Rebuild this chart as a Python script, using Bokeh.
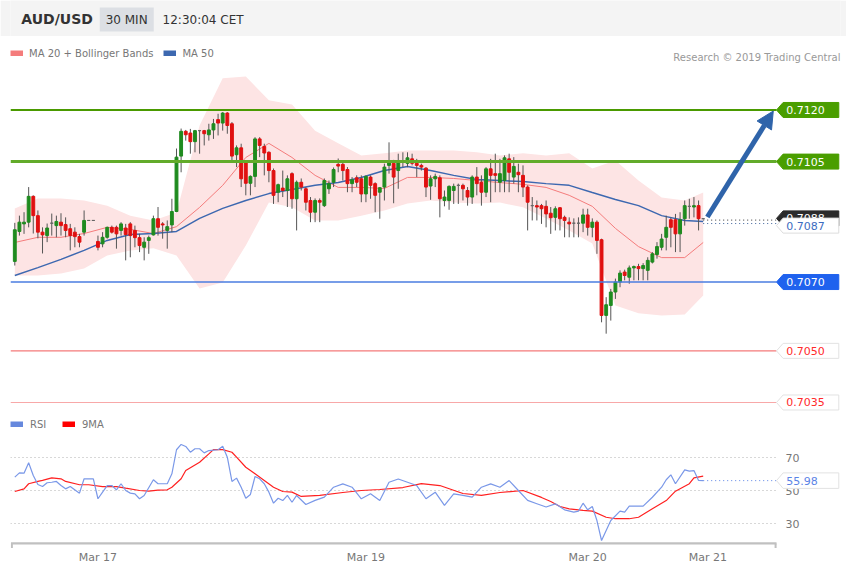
from bokeh.plotting import figure
from bokeh.models import (ColumnDataSource, Range1d, Legend, LegendItem, Label,
                          Arrow, NormalHead, FixedTicker)
from bokeh.layouts import column
from bokeh.embed import file_html
from bokeh.resources import INLINE
from bokeh.core.properties import value

FONT = "DejaVu Sans"

# ---------------- data ----------------
opens = [0.70760, 0.70847, 0.70869, 0.70874, 0.70949, 0.70893, 0.70845, 0.70835, 0.70871, 0.70864,
         0.70874, 0.70867, 0.70855, 0.70845, 0.70832, 0.70845, 0.70879, 0.70879, 0.70818, 0.70811,
         0.70830, 0.70859, 0.70859, 0.70850, 0.70857, 0.70869, 0.70850, 0.70829, 0.70801, 0.70821,
         0.70837, 0.70884, 0.70869, 0.70850, 0.70866, 0.70905, 0.71066, 0.71138, 0.71133, 0.71108,
         0.71140, 0.71140, 0.71128, 0.71142, 0.71172, 0.71162, 0.71191, 0.71160, 0.71070, 0.71090,
         0.71051, 0.70987, 0.71007, 0.71116, 0.71094, 0.71077, 0.71024, 0.70961, 0.70973, 0.70966,
         0.71015, 0.70942, 0.70990, 0.70971, 0.70937, 0.70903, 0.70937, 0.70922, 0.70971, 0.70990,
         0.71042, 0.71042, 0.71027, 0.70986, 0.71003, 0.71000, 0.70956, 0.71005, 0.70986, 0.70961,
         0.70976, 0.71039, 0.71045, 0.71024, 0.71048, 0.71045, 0.71058, 0.71045, 0.71039, 0.71031,
         0.70979, 0.71000, 0.71003, 0.70937, 0.70937, 0.70966, 0.70981, 0.70981, 0.70966, 0.70947,
         0.71005, 0.70990, 0.70961, 0.71029, 0.71015, 0.70990, 0.70995, 0.71058, 0.71005, 0.71019,
         0.71010, 0.70976, 0.70922, 0.70922, 0.70922, 0.70920, 0.70900, 0.70888, 0.70916, 0.70888,
         0.70874, 0.70871, 0.70871, 0.70871, 0.70895, 0.70859, 0.70874, 0.70823, 0.70603, 0.70632,
         0.70671, 0.70700, 0.70729, 0.70714, 0.70741, 0.70745, 0.70739, 0.70734, 0.70758, 0.70780,
         0.70801, 0.70830, 0.70881, 0.70881, 0.70840, 0.70884, 0.70920, 0.70918, 0.70922, 0.70884]
highs = [0.70872, 0.70893, 0.70903, 0.70976, 0.70952, 0.70908, 0.70859, 0.70870, 0.70899, 0.70893,
         0.70900, 0.70888, 0.70869, 0.70859, 0.70840, 0.70908, 0.70879, 0.70879, 0.70835, 0.70845,
         0.70861, 0.70864, 0.70864, 0.70874, 0.70869, 0.70874, 0.70864, 0.70840, 0.70830, 0.70835,
         0.70893, 0.70918, 0.70874, 0.70879, 0.70942, 0.71088, 0.71146, 0.71142, 0.71145, 0.71142,
         0.71142, 0.71142, 0.71160, 0.71174, 0.71189, 0.71194, 0.71194, 0.71165, 0.71097, 0.71102,
         0.71053, 0.71010, 0.71121, 0.71121, 0.71102, 0.71080, 0.71030, 0.70986, 0.71024, 0.71010,
         0.71019, 0.70995, 0.71001, 0.70976, 0.70947, 0.70943, 0.70943, 0.71001, 0.70995, 0.71033,
         0.71059, 0.71048, 0.71034, 0.71005, 0.71010, 0.71010, 0.71010, 0.71010, 0.70990, 0.70976,
         0.71044, 0.71106, 0.71055, 0.71073, 0.71077, 0.71077, 0.71073, 0.71058, 0.71044, 0.71034,
         0.71010, 0.71015, 0.71010, 0.70966, 0.70981, 0.70986, 0.70986, 0.70986, 0.70976, 0.71010,
         0.71034, 0.71010, 0.71034, 0.71058, 0.71073, 0.71058, 0.71068, 0.71073, 0.71063, 0.71044,
         0.71039, 0.70981, 0.70947, 0.70937, 0.70927, 0.70937, 0.70918, 0.70920, 0.70918, 0.70893,
         0.70888, 0.70885, 0.70888, 0.70913, 0.70913, 0.70885, 0.70879, 0.70826, 0.70656, 0.70680,
         0.70710, 0.70734, 0.70736, 0.70748, 0.70748, 0.70753, 0.70755, 0.70772, 0.70787, 0.70816,
         0.70840, 0.70893, 0.70888, 0.70898, 0.70903, 0.70937, 0.70942, 0.70947, 0.70937, 0.70884]
lows = [0.70748, 0.70835, 0.70840, 0.70859, 0.70841, 0.70827, 0.70783, 0.70816, 0.70835, 0.70830,
        0.70835, 0.70830, 0.70792, 0.70801, 0.70801, 0.70835, 0.70879, 0.70879, 0.70792, 0.70801,
        0.70826, 0.70841, 0.70797, 0.70835, 0.70763, 0.70772, 0.70801, 0.70787, 0.70763, 0.70782,
        0.70835, 0.70835, 0.70826, 0.70797, 0.70845, 0.70903, 0.71019, 0.71111, 0.71073, 0.71077,
        0.71073, 0.71097, 0.71111, 0.71116, 0.71126, 0.71140, 0.71131, 0.71053, 0.71034, 0.70976,
        0.70952, 0.70952, 0.70976, 0.71063, 0.71010, 0.70990, 0.70927, 0.70932, 0.70947, 0.70918,
        0.70913, 0.70850, 0.70966, 0.70908, 0.70874, 0.70874, 0.70874, 0.70918, 0.70956, 0.70976,
        0.71019, 0.70995, 0.70961, 0.70961, 0.70976, 0.70932, 0.70932, 0.70942, 0.70903, 0.70884,
        0.70937, 0.71015, 0.70929, 0.70971, 0.71034, 0.71034, 0.71039, 0.71005, 0.71024, 0.70947,
        0.70939, 0.70976, 0.70888, 0.70920, 0.70910, 0.70927, 0.70927, 0.70937, 0.70922, 0.70927,
        0.70952, 0.70922, 0.70947, 0.70932, 0.70961, 0.70961, 0.70961, 0.70961, 0.70986, 0.70961,
        0.70947, 0.70850, 0.70879, 0.70879, 0.70869, 0.70859, 0.70840, 0.70850, 0.70850, 0.70830,
        0.70830, 0.70830, 0.70830, 0.70845, 0.70835, 0.70830, 0.70782, 0.70583, 0.70550, 0.70588,
        0.70651, 0.70685, 0.70705, 0.70695, 0.70705, 0.70705, 0.70705, 0.70705, 0.70754, 0.70768,
        0.70792, 0.70792, 0.70801, 0.70787, 0.70787, 0.70864, 0.70884, 0.70888, 0.70850, 0.70884]
closes = [0.70852, 0.70874, 0.70874, 0.70949, 0.70893, 0.70845, 0.70837, 0.70857, 0.70871, 0.70876,
          0.70864, 0.70850, 0.70835, 0.70832, 0.70816, 0.70879, 0.70879, 0.70879, 0.70801, 0.70830,
          0.70859, 0.70845, 0.70840, 0.70869, 0.70838, 0.70835, 0.70829, 0.70806, 0.70816, 0.70829,
          0.70884, 0.70859, 0.70866, 0.70861, 0.70905, 0.71063, 0.71138, 0.71128, 0.71108, 0.71140,
          0.71140, 0.71131, 0.71142, 0.71160, 0.71162, 0.71191, 0.71155, 0.71066, 0.71090, 0.71000,
          0.70987, 0.71007, 0.71116, 0.71097, 0.71075, 0.71024, 0.70952, 0.70983, 0.70966, 0.71000,
          0.70942, 0.70990, 0.70976, 0.70932, 0.70903, 0.70937, 0.70932, 0.70995, 0.70986, 0.71027,
          0.71037, 0.71024, 0.70986, 0.70997, 0.70990, 0.70956, 0.71007, 0.70981, 0.70952, 0.70974,
          0.71034, 0.71053, 0.71005, 0.71048, 0.71053, 0.71061, 0.71045, 0.71039, 0.71034, 0.70976,
          0.71000, 0.71007, 0.70942, 0.70947, 0.70978, 0.70978, 0.70981, 0.70971, 0.70947, 0.71005,
          0.70986, 0.70961, 0.71029, 0.71010, 0.71010, 0.71015, 0.71061, 0.71019, 0.71036, 0.71012,
          0.70976, 0.70932, 0.70922, 0.70918, 0.70913, 0.70898, 0.70887, 0.70913, 0.70884, 0.70879,
          0.70869, 0.70871, 0.70871, 0.70895, 0.70859, 0.70874, 0.70821, 0.70603, 0.70634, 0.70671,
          0.70700, 0.70726, 0.70719, 0.70741, 0.70745, 0.70739, 0.70748, 0.70763, 0.70782, 0.70803,
          0.70825, 0.70859, 0.70859, 0.70840, 0.70881, 0.70922, 0.70920, 0.70922, 0.70884, 0.70884]

# indicator values read at these bars
ind_bars = [0, 5, 10, 15, 20, 25, 30, 35, 40, 45, 50, 55, 60, 65, 70, 75, 80, 85, 90, 95,
            100, 105, 110, 115, 120, 125, 130, 135, 140, 145, 149]
ma50 = [0.70719, 0.70742, 0.70766, 0.70792, 0.70821, 0.70838, 0.70841, 0.70847, 0.70885, 0.70914,
        0.70937, 0.70957, 0.70969, 0.70981, 0.70989, 0.71004, 0.71024, 0.71036, 0.71024, 0.71010,
        0.70998, 0.70995, 0.70992, 0.70986, 0.70981, 0.70960, 0.70940, 0.70922, 0.70893, 0.70879, 0.70876]
ma20 = [0.70815, 0.70830, 0.70830, 0.70841, 0.70859, 0.70853, 0.70841, 0.70861, 0.70917, 0.70981,
        0.71062, 0.71103, 0.71062, 0.71010, 0.70975, 0.70975, 0.70972, 0.71004, 0.71004, 0.71001,
        0.70995, 0.70989, 0.70984, 0.70975, 0.70952, 0.70920, 0.70856, 0.70803, 0.70771, 0.70771, 0.70815]
bb_upper = [0.70914, 0.70943, 0.70943, 0.70937, 0.70922, 0.70893, 0.70879, 0.70902, 0.71155, 0.71292,
            0.71297, 0.71228, 0.71216, 0.71140, 0.71103, 0.71068, 0.71074, 0.71082, 0.71082, 0.71082,
            0.71077, 0.71068, 0.71074, 0.71068, 0.71074, 0.71030, 0.71053, 0.70995, 0.70946, 0.70937, 0.70960]
bb_lower = [0.70719, 0.70719, 0.70725, 0.70739, 0.70777, 0.70792, 0.70798, 0.70777, 0.70681, 0.70699,
            0.70806, 0.70931, 0.70917, 0.70879, 0.70879, 0.70893, 0.70908, 0.70928, 0.70937, 0.70931,
            0.70928, 0.70931, 0.70917, 0.70885, 0.70850, 0.70812, 0.70632, 0.70609, 0.70603, 0.70606, 0.70661]

rsi_bars = [0, 1, 2, 3, 4, 5, 6, 7, 8, 9, 10, 11, 12, 14, 15, 16, 17, 18, 19, 20, 21, 22, 23, 24, 25,
            26, 27, 28, 30, 31, 33, 34, 35, 36, 37, 38, 39, 40, 41, 42, 44, 45, 46, 47, 48, 49, 50,
            51, 52, 53, 54, 55, 56, 57, 58, 59, 60, 61, 63, 65, 67, 69, 71, 73, 75, 77, 79, 81, 83,
            85, 87, 89, 91, 93, 95, 97, 99, 101, 103, 105, 107, 109, 111, 113, 115, 117, 119, 121,
            122, 123, 124, 125, 126, 127, 128, 129, 131, 132, 133, 136, 138, 140, 141, 142, 143,
            145, 146, 147, 148, 149]
rsi = [58.1, 60.7, 60.5, 66.8, 59.1, 53.6, 52.4, 54.7, 55.0, 55.5, 53.0, 51.0, 52.4, 48.4, 57.1,
       57.1, 57.1, 45.0, 49.0, 53.0, 53.0, 50.4, 54.1, 50.0, 48.4, 48.0, 45.0, 47.0, 56.5, 54.1,
       54.1, 60.1, 74.7, 77.9, 76.7, 73.2, 75.3, 75.3, 72.8, 74.2, 74.7, 76.8, 70.2, 55.5, 57.5,
       52.0, 45.3, 47.6, 58.5, 57.1, 54.1, 49.0, 42.3, 45.3, 43.9, 47.0, 42.9, 47.0, 41.5, 44.0,
       46.0, 52.0, 54.0, 52.0, 45.0, 48.0, 44.0, 55.0, 57.0, 55.0, 53.0, 45.0, 49.0, 41.0, 48.0,
       47.0, 46.0, 52.0, 54.0, 52.0, 56.0, 50.0, 44.0, 42.0, 40.0, 41.9, 38.3, 36.9, 37.5, 42.3,
       38.3, 40.3, 31.8, 19.7, 25.8, 31.8, 37.5, 36.9, 40.5, 40.5, 45.9, 52.0, 56.5, 59.5, 54.1,
       62.5, 61.7, 62.1, 56.1, 55.98]
ma9_bars = [0, 2, 3, 5, 6, 8, 10, 11, 14, 16, 19, 22, 24, 27, 29, 31, 33, 34, 36, 37, 40, 42, 43,
            45, 47, 48, 50, 52, 54, 56, 58, 60, 62, 66, 71, 75, 79, 84, 88, 92, 97, 101, 105, 110,
            114, 116, 118, 120, 123, 125, 128, 130, 133, 135, 138, 141, 143, 146, 147, 149]
rsi_ma9 = [49.4, 51.0, 54.1, 55.5, 56.1, 57.7, 57.1, 55.5, 53.5, 53.5, 52.4, 52.4, 51.4, 50.0, 49.6,
           50.2, 50.4, 52.0, 57.1, 62.1, 67.1, 72.2, 74.8, 74.8, 73.2, 70.2, 64.1, 60.1, 56.1, 52.0,
           49.4, 49.0, 46.4, 47.0, 48.8, 50.0, 50.6, 51.8, 54.2, 53.0, 48.2, 47.0, 48.8, 50.0, 45.8,
           43.3, 40.3, 38.9, 37.9, 37.5, 33.8, 32.9, 32.9, 33.8, 38.9, 43.9, 49.6, 54.1, 57.7, 58.7]

levels = [0.7120, 0.7105, 0.7070, 0.7050, 0.7035]
last_price = 0.7088
last_bid = 0.7087
target = 0.7120
rsi_last = 55.98
rsi_levels = [30, 50, 70]
date_ticks = [18, 76, 124, 150]
date_labels = ["Mar 17", "Mar 19", "Mar 20", "Mar 21"]
pair, timeframe, stamp = "AUD/USD", "30 MIN", "12:30:04 CET"

# ---------------- styling / layout constants ----------------
W = 846
X0, X1 = -0.93, 178.72
TIP, BOX_L, BOX_R, TXT_X = 164.87, 166.3, 178.35, 167.0
UP, DOWN, DOJI, WICK = "#1f8b1f", "#e01010", "#666666", "#555555"
NAN = float("nan")


def tag(center, half):
    return [TIP, BOX_L, BOX_R, BOX_R, BOX_L], [center, center + half, center + half, center - half, center - half]


def bare(fig):
    fig.outline_line_color = None
    fig.grid.visible = False
    fig.background_fill_color = "white"
    fig.border_fill_color = "white"


# ---------------- header (pixel-mapped ranges) ----------------
h = figure(width=W, height=36, x_range=Range1d(0, W), y_range=Range1d(36, 0), toolbar_location=None,
           output_backend="svg", x_axis_location=None, y_axis_location=None, min_border=0)
h.outline_line_color = None
h.grid.visible = False
h.background_fill_color = "#f4f4f4"
h.border_fill_color = "#f4f4f4"
h.quad(left=[91], right=[146], top=[7], bottom=[31], fill_color="#dcdfe4", line_color=None)
h.text(x=[11], y=[18.5], text=[pair], text_font=value(FONT), text_font_style="bold",
       text_font_size="14px", text_color="#333333", text_baseline="middle")
h.text(x=[97, 155], y=[19.5, 19.5], text=[timeframe, stamp], text_font=value(FONT),
       text_font_size="12px", text_color="#333333", text_baseline="middle")

# ---------------- main price chart ----------------
p = figure(width=W, height=376, x_range=Range1d(X0, X1), y_range=Range1d(0.703209, 0.713903),
           toolbar_location=None, output_backend="svg", x_axis_location=None, y_axis_location=None,
           min_border_left=10, min_border_right=W - 840, min_border_top=8, min_border_bottom=0)
bare(p)

ind = ColumnDataSource(dict(x=ind_bars, ma20=ma20, ma50=ma50, up=bb_upper, lo=bb_lower))
p.varea(x="x", y1="lo", y2="up", source=ind, fill_color="#fde4e4", fill_alpha=1.0)
p.line(x="x", y="ma20", source=ind, line_color="#f47c7c", line_width=1)
p.line(x="x", y="ma50", source=ind, line_color="#3d68b0", line_width=1.5)

bars = list(range(len(opens)))
cols = [UP if c > o else (DOWN if c < o else DOJI) for o, c in zip(opens, closes)]
cs = ColumnDataSource(dict(x=bars, o=opens, h=highs, l=lows, c=closes,
                           top=[max(a, b) for a, b in zip(opens, closes)],
                           bot=[min(a, b) for a, b in zip(opens, closes)], col=cols))
p.segment(x0="x", x1="x", y0="h", y1="l", source=cs, line_color=WICK, line_width=1)
p.vbar(x="x", width=0.62, top="top", bottom="bot", source=cs, fill_color="col",
       line_color="col", line_width=1)

lvl_src = ColumnDataSource(dict(
    y=levels,
    lc=["#4a9a00", "#62ab2a", "#4a7de0", "#f47a7a", "#f8a8a8"],
    lw=[2, 3, 1.5, 1.2, 1.2]))
p.segment(x0=X0, x1=TIP, y0="y", y1="y", source=lvl_src, line_color="lc", line_width="lw")

# current price dotted guides
p.segment(x0=[len(opens) - 1] * 2, x1=[TIP] * 2, y0=[last_price, last_bid], y1=[last_price, last_bid],
          line_color=["#333333", "#3a5f9a"], line_width=1, line_dash="1 3")

# forecast arrow
p.add_layout(Arrow(end=NormalHead(size=17, fill_color="#2f64aa", line_color="#2f64aa"),
                   x_start=len(opens) - 0.1, y_start=last_price + 0.00009,
                   x_end=TIP - 0.7, y_end=target - 0.00003,
                   line_color="#2f64aa", line_width=5))

# price tags
HALF = 0.000218
tag_xs, tag_ys = [], []
for lv in levels:
    a, b = tag(lv, HALF)
    tag_xs.append(a)
    tag_ys.append(b)
tags = ColumnDataSource(dict(xs=tag_xs, ys=tag_ys,
                             fc=["#4a9e00", "#4a9e00", "#1f62ee", "white", "white"],
                             lc=["#4a9e00", "#4a9e00", "#1f62ee", "#e2e2e2", "#e2e2e2"]))
p.patches(xs="xs", ys="ys", source=tags, fill_color="fc", line_color="lc", line_width=1)
p.text(x=[TXT_X] * len(levels), y=levels, text=[f"{v:.4f}" for v in levels],
       text_color=["white", "white", "white", "#ff2a2a", "#ff2a2a"], text_font=value(FONT),
       text_font_size="11px", text_baseline="middle")

# last price tags (overlapping)
cur_centers = [last_price + 0.00005, last_bid - 0.00006]
a1, b1 = tag(cur_centers[0], HALF)
a2, b2 = tag(cur_centers[1], HALF)
p.patches(xs=[a1, a2], ys=[b1, b2], fill_color=["#2b2b2b", "white"],
          line_color=["#2b2b2b", "#dddddd"], line_width=1)
p.text(x=[TXT_X] * 2, y=cur_centers, text=[f"{last_price:.4f}", f"{last_bid:.4f}"],
       text_color=["white", "#3c6cc0"], text_font=value(FONT), text_font_size="11px",
       text_baseline="middle")

# legend (swatch-only renderers, nothing drawn in the plot)
lg1 = p.line(x=[NAN], y=[NAN], line_color="#f47c7c", line_width=6)
lg2 = p.line(x=[NAN], y=[NAN], line_color="#3d68b0", line_width=6)
leg = Legend(items=[LegendItem(label="MA 20 + Bollinger Bands", renderers=[lg1]),
                    LegendItem(label="MA 50", renderers=[lg2])],
             location="top_left", orientation="horizontal", background_fill_alpha=0,
             border_line_color=None, padding=4, margin=0, spacing=10, label_standoff=6,
             glyph_width=13, glyph_height=6, label_height=18,
             label_text_font=FONT, label_text_font_size="10px", label_text_color="#777777")
p.add_layout(leg)
p.add_layout(Label(x=830, y=355, x_units="screen", y_units="screen",
                   text="Research \u00a9 2019 Trading Central", text_align="right",
                   text_baseline="middle", text_font=FONT, text_font_size="10px",
                   text_color="#999999"))

# ---------------- RSI panel ----------------
r = figure(width=W, height=156, x_range=p.x_range, y_range=Range1d(14.85, 93.64),
           toolbar_location=None, output_backend="svg", y_axis_location=None,
           min_border_left=10, min_border_right=W - 840, min_border_top=6, min_border_bottom=20)
bare(r)
r.xaxis.ticker = FixedTicker(ticks=date_ticks)
r.xaxis.major_label_overrides = dict(zip(date_ticks, date_labels))
r.xaxis.axis_line_color = None
r.xaxis.major_tick_line_color = None
r.xaxis.minor_tick_line_color = None
r.xaxis.major_tick_out = 0
r.xaxis.major_tick_in = 0
r.xaxis.minor_tick_out = 0
r.xaxis.major_label_standoff = 2
r.xaxis.major_label_text_font = FONT
r.xaxis.major_label_text_font_size = "11px"
r.xaxis.major_label_text_color = "#777777"

AXIS_Y = 17.9
r.segment(x0=X0, x1=TIP, y0="y", y1="y", source=ColumnDataSource(dict(y=rsi_levels)),
          line_color="#b0b0b0", line_width=1.2, line_dash="1 3")
r.segment(x0=[X0 + 0.1], x1=[TIP], y0=[AXIS_Y], y1=[AXIS_Y], line_color="#c0c0c0", line_width=2.3)
r.segment(x0=[X0 + 0.3, TIP - 0.2], x1=[X0 + 0.3, TIP - 0.2], y0=[AXIS_Y] * 2, y1=[15.2] * 2,
          line_color="#c0c0c0", line_width=2)

r.line(x=ma9_bars, y=rsi_ma9, line_color="#ff2020", line_width=1.2)
r.line(x=rsi_bars, y=rsi, line_color="#7a98e8", line_width=1.2)
r.segment(x0=[rsi_bars[-1]], x1=[TIP], y0=[rsi_last], y1=[rsi_last],
          line_color="#5b84e6", line_width=1, line_dash="1 3")

r.text(x=[TXT_X - 0.2] * 3, y=rsi_levels, text=[str(v) for v in rsi_levels],
       text_color="#777777", text_font=value(FONT), text_font_size="11px", text_baseline="middle")
ra, rb = tag(rsi_last, 4.7)
r.patches(xs=[ra], ys=[rb], fill_color="white", line_color="#e2e2e2", line_width=1)
r.text(x=[TXT_X], y=[rsi_last], text=[f"{rsi_last:.2f}"], text_color="#5b84e6",
       text_font=value(FONT), text_font_size="11px", text_baseline="middle")

rl1 = r.line(x=[NAN], y=[NAN], line_color="#6688dd", line_width=6)
rl2 = r.line(x=[NAN], y=[NAN], line_color="#ff0000", line_width=6)
rleg = Legend(items=[LegendItem(label="RSI", renderers=[rl1]), LegendItem(label="9MA", renderers=[rl2])],
              location="top_left", orientation="horizontal", background_fill_alpha=0,
              border_line_color=None, padding=4, margin=0, spacing=12, label_standoff=7,
              glyph_width=13, glyph_height=6, label_height=12,
              label_text_font=FONT, label_text_font_size="10px", label_text_color="#777777")
r.add_layout(rleg)

layout = column(h, p, r, spacing=0)
open("out.html", "w").write(file_html(layout, INLINE))
